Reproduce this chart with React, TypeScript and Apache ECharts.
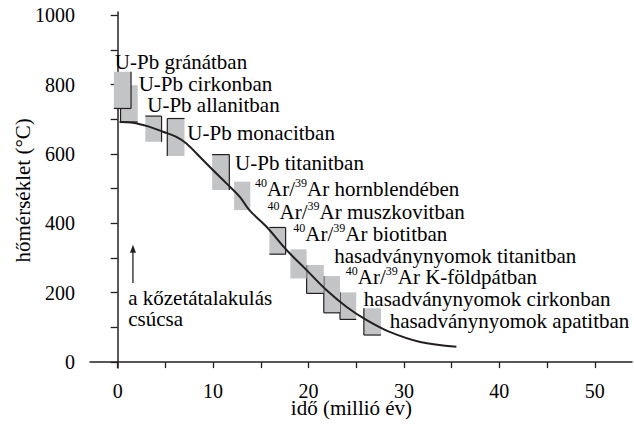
import React, { useEffect, useRef } from "react";
import * as echarts from "echarts";

// ---- data (ages in million years, temperatures in °C) ----
const BOX_LABELS = [
  "U-Pb gránátban",
  "U-Pb cirkonban",
  "U-Pb allanitban",
  "U-Pb monacitban",
  "U-Pb titanitban",
  "{s|40}Ar/{s|39}Ar hornblendében",
  "{s|40}Ar/{s|39}Ar muszkovitban",
  "{s|40}Ar/{s|39}Ar biotitban",
  "hasadványnyomok titanitban",
  "{s|40}Ar/{s|39}Ar K-földpátban",
  "hasadványnyomok cirkonban",
  "hasadványnyomok apatitban",
];
const AGE_START = [-0.4, 0.3, 2.9, 5.2, 9.9, 12.2, 15.9, 18.1, 19.8, 21.6, 23.3, 25.8];
const AGE_END = [1.4, 2.1, 4.6, 7.0, 11.7, 13.9, 17.6, 19.8, 21.6, 23.3, 25.0, 27.6];
const TEMP_LOW = [731, 692, 635, 594, 496, 438, 311, 241, 198, 142, 123, 78];
const TEMP_HIGH = [837, 798, 709, 702, 598, 520, 388, 325, 280, 248, 201, 155];

// label anchors (left edge, vertical middle) in data units
const LABEL_AGE = [-0.3, 2.2, 3.1, 7.3, 12.3, 14.4, 15.7, 18.4, 22.7, 23.9, 25.8, 28.5];
const LABEL_TEMP = [865, 801, 741, 659, 573, 496, 429, 366, 305, 242, 182, 118];

// cooling curve
const CURVE_AGE = [0.2, 1.6, 3.35, 4.75, 6.15, 7.2, 8.6, 10.0, 11.4, 12.8, 13.8, 15.6, 17.7, 19.8, 21.9, 24.0, 26.1, 28.5, 31.7, 35.5];
const CURVE_TEMP = [692, 690, 678, 664, 649, 630, 592, 553, 515, 476, 438, 390, 323, 265, 207, 159, 121, 87, 58, 44];

// peak metamorphism annotation
const PEAK_LINES = ["a kőzetátalakulás", "csúcsa"];
const PEAK_AGE = [1.1, 1.1];
const PEAK_TEMP = [184, 124];
const ARROW_AGE = [1.6, 1.6];
const ARROW_TEMP = [228, 327];

// axes
const X_MIN = -2.9;
const X_MAX = 53.9;
const Y_MIN = -17;
const Y_MAX = 1009;
const X_TICKS = [0, 5, 10, 15, 20, 25, 30, 35, 40, 45, 50];
const X_LABELS = [0, 10, 20, 30, 40, 50];
const Y_TICKS = [0, 100, 200, 300, 400, 500, 600, 700, 800, 900, 1000];
const Y_LABELS = [0, 200, 400, 600, 800, 1000];
const X_TITLE = "idő (millió év)";
const Y_TITLE = "hőmérséklet (°C)";
const X_TITLE_AT = 24.5; // centre of the x title, in Ma
const Y_TITLE_AT = 495; // centre of the y title, in °C

// ---- styles ----
const INK = "#231f20";
const TEXT_INK = "#000000";
const BOX_FILL = "#c3c4c6";
const FONT = "Liberation Serif";
const LABEL_SIZE = 21;
const TICK_SIZE = 20;
// which edges of each box carry a black line
const BOX_EDGES = ["rb", "lb", "tr", "tl", "tr", "", "trb", "", "lb", "lb", "lb", "lb"];

let measureCtx: CanvasRenderingContext2D | null = null;
function textWidth(s: string, size: number) {
  if (!measureCtx) measureCtx = document.createElement("canvas").getContext("2d");
  measureCtx!.font = `${size}px ${FONT}`;
  return measureCtx!.measureText(s).width;
}

// plain text element anchored at its top-left corner
function txt(x: number, y: number, text: string, size: number, extra: any = {}) {
  return { type: "text", x, y, ...extra, style: { text, fontFamily: FONT, fontSize: size, fill: TEXT_INK } };
}

export default function App() {
  const ref = useRef<HTMLDivElement>(null);
  useEffect(() => {
    document.body.style.margin = "0";
    const chart = echarts.init(ref.current!, null, { renderer: "svg" });

    const boxData = AGE_START.map((a, i) => [a, AGE_END[i], TEMP_LOW[i], TEMP_HIGH[i], i]).reverse();

    chart.setOption({
      animation: false,
      grid: { left: 90, right: 2, top: 12, bottom: 57, containLabel: false, outerBoundsMode: "none" },
      xAxis: {
        type: "value",
        min: X_MIN,
        max: X_MAX,
        axisLine: { show: true, lineStyle: { color: INK, width: 1.5 } },
        axisTick: { show: true, customValues: X_TICKS, length: 6, lineStyle: { color: INK, width: 1.3 } },
        axisLabel: { show: false },
        splitLine: { show: false },
      },
      yAxis: {
        type: "value",
        min: Y_MIN,
        max: Y_MAX,
        axisLine: { show: true, lineStyle: { color: INK, width: 1.5 } },
        axisTick: { show: true, customValues: Y_TICKS, length: 7, lineStyle: { color: INK, width: 1.3 } },
        axisLabel: { show: false },
        splitLine: { show: false },
      },
      series: [
        {
          type: "custom",
          name: "boxes",
          data: boxData,
          z: 2,
          renderItem: (params: any, api: any) => {
            const x0 = api.value(0), x1 = api.value(1), t0 = api.value(2), t1 = api.value(3);
            const idx = api.value(4);
            const pLT = api.coord([x0, t1]);
            const pRB = api.coord([x1, t0]);
            const l = pLT[0], t = pLT[1], r = pRB[0], b = pRB[1];
            const edges = BOX_EDGES[idx] || "";
            const children: any[] = [
              { type: "rect", shape: { x: l, y: t, width: r - l, height: b - t }, style: { fill: BOX_FILL } },
            ];
            const seg = (xa: number, ya: number, xb: number, yb: number) => ({
              type: "line",
              shape: { x1: xa, y1: ya, x2: xb, y2: yb },
              style: { stroke: INK, lineWidth: 1.2 },
            });
            if (edges.includes("t")) children.push(seg(l, t, r, t));
            if (edges.includes("b")) children.push(seg(l, b, r, b));
            if (edges.includes("l")) children.push(seg(l, t, l, b));
            if (edges.includes("r")) children.push(seg(r, t, r, b));
            return { type: "group", children };
          },
        },
        {
          type: "line",
          name: "curve",
          data: CURVE_AGE.map((a, i) => [a, CURVE_TEMP[i]]),
          smooth: 0.35,
          symbol: "none",
          z: 3,
          lineStyle: { color: INK, width: 2 },
        },
        {
          type: "line",
          name: "arrow",
          data: [
            { value: [ARROW_AGE[0], ARROW_TEMP[0]], symbol: "none" },
            { value: [ARROW_AGE[1], ARROW_TEMP[1]], symbol: "triangle", symbolSize: [6, 8] },
          ],
          z: 3,
          lineStyle: { color: INK, width: 1.3 },
          itemStyle: { color: INK },
        },
        {
          type: "custom",
          name: "labels",
          data: LABEL_AGE.map((a, i) => [a, LABEL_TEMP[i], i]),
          z: 4,
          renderItem: (params: any, api: any) => {
            const p = api.coord([api.value(0), api.value(1)]);
            const idx = api.value(2);
            const text = BOX_LABELS[idx];
            const isRich = text.includes("{s|");
            return {
              type: "text",
              x: p[0],
              y: p[1] - (isRich ? 13.5 : 10.5),
              style: {
                text,
                fontFamily: FONT,
                fontSize: LABEL_SIZE,
                fill: TEXT_INK,
                rich: { s: { fontFamily: FONT, fontSize: 12, fill: TEXT_INK, padding: [0, 0, 12, 0] } },
              },
            };
          },
        },
        {
          type: "custom",
          name: "peak",
          data: PEAK_AGE.map((a, i) => [a, PEAK_TEMP[i], i]),
          z: 4,
          renderItem: (params: any, api: any) => {
            const p = api.coord([api.value(0), api.value(1)]);
            return txt(p[0], p[1] - 10.5, PEAK_LINES[api.value(2)], LABEL_SIZE);
          },
        },
        {
          type: "custom",
          name: "xTickLabels",
          data: X_LABELS.map((v) => [v, Y_MIN]),
          z: 4,
          renderItem: (params: any, api: any) => {
            const v = api.value(0);
            const p = api.coord([v, api.value(1)]);
            const s = String(v);
            return txt(p[0] - textWidth(s, TICK_SIZE) / 2, p[1] + 13, s, TICK_SIZE);
          },
        },
        {
          type: "custom",
          name: "yTickLabels",
          data: Y_LABELS.map((v) => [X_MIN, v]),
          z: 4,
          renderItem: (params: any, api: any) => {
            const v = api.value(1);
            const p = api.coord([api.value(0), v]);
            const s = String(v);
            return txt(p[0] - 15 - textWidth(s, TICK_SIZE), p[1] - 10, s, TICK_SIZE);
          },
        },
        {
          type: "custom",
          name: "axisTitles",
          data: [[X_TITLE_AT, Y_MIN, 0], [X_MIN, Y_TITLE_AT, 1]],
          z: 4,
          renderItem: (params: any, api: any) => {
            const p = api.coord([api.value(0), api.value(1)]);
            if (api.value(2) === 0) {
              return txt(p[0] - textWidth(X_TITLE, LABEL_SIZE) / 2, p[1] + 29.5, X_TITLE, LABEL_SIZE);
            }
            const w = textWidth(Y_TITLE, LABEL_SIZE);
            return txt(p[0] - 67 - 10.5, p[1] + w / 2, Y_TITLE, LABEL_SIZE, { rotation: Math.PI / 2 });
          },
        },
      ],
    });
    return () => chart.dispose();
  }, []);
  return <div ref={ref} style={{ width: 634, height: 425 }} />;
}
